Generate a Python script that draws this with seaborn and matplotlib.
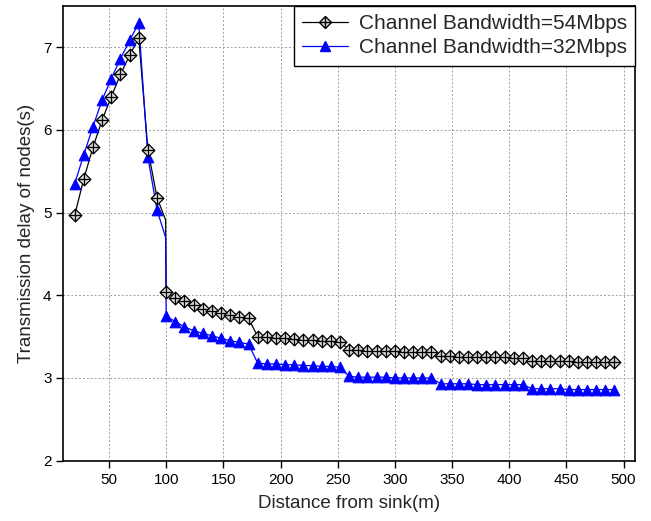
import numpy as np
import pandas as pd
import matplotlib
matplotlib.use("Agg")
import matplotlib.pyplot as plt
import seaborn as sns
from matplotlib.lines import Line2D
from matplotlib.legend_handler import HandlerTuple

# ---------------- data ----------------
distance = list(range(20, 493, 8))  # 20, 28, ..., 492

delay_54 = [4.97, 5.41, 5.79, 6.12, 6.40, 6.67, 6.90, 7.11, 5.76, 5.18,
            4.04, 3.97, 3.93, 3.88, 3.84, 3.81, 3.78, 3.76, 3.74, 3.72,
            3.50, 3.49, 3.48, 3.48, 3.47, 3.46, 3.46, 3.45, 3.45, 3.44,
            3.34, 3.34, 3.33, 3.33, 3.33, 3.33, 3.32, 3.32, 3.32, 3.32,
            3.26, 3.26, 3.25, 3.25, 3.25, 3.25, 3.25, 3.25, 3.24, 3.24,
            3.20, 3.20, 3.20, 3.20, 3.20, 3.19, 3.19, 3.19, 3.19, 3.19]

delay_32 = [5.35, 5.70, 6.04, 6.36, 6.62, 6.86, 7.08, 7.29, 5.67, 5.03,
            3.75, 3.68, 3.62, 3.57, 3.54, 3.51, 3.48, 3.45, 3.43, 3.41,
            3.18, 3.17, 3.17, 3.16, 3.16, 3.15, 3.15, 3.14, 3.14, 3.13,
            3.02, 3.01, 3.01, 3.01, 3.01, 3.00, 3.00, 3.00, 3.00, 3.00,
            2.93, 2.93, 2.93, 2.93, 2.92, 2.92, 2.92, 2.92, 2.92, 2.92,
            2.87, 2.87, 2.87, 2.87, 2.86, 2.86, 2.86, 2.86, 2.86, 2.86]

# unmarked bend vertices of the curves just before the drop at 100 m
bend_x = [99.5]
bend_54 = [4.91]
bend_32 = [4.70]

labels = ["Channel Bandwidth=54Mbps", "Channel Bandwidth=32Mbps"]
x_ticks = [50, 100, 150, 200, 250, 300, 350, 400, 450, 500]
y_ticks = [2, 3, 4, 5, 6, 7]

# ---------------- style ----------------
sns.set_style("ticks")
plt.rcParams["font.family"] = ["Liberation Sans", "DejaVu Sans"]

fig = plt.figure(figsize=(6.51, 5.21), dpi=100)
ax = fig.add_axes([0.0972, 0.1157, 0.9754 - 0.0972, 0.989 - 0.1157])

line_54 = pd.DataFrame({"x": distance + bend_x, "y": delay_54 + bend_54}).sort_values("x")
line_32 = pd.DataFrame({"x": distance + bend_x, "y": delay_32 + bend_32}).sort_values("x")
pts_54 = pd.DataFrame({"x": distance, "y": delay_54})
pts_32 = pd.DataFrame({"x": distance, "y": delay_32})

blue = "#0000ff"

sns.lineplot(data=line_54, x="x", y="y", ax=ax, color="black", lw=0.9,
             estimator=None, sort=False, zorder=3)
sns.lineplot(data=line_32, x="x", y="y", ax=ax, color=blue, lw=0.9,
             estimator=None, sort=False, zorder=3)

sns.scatterplot(data=pts_32, x="x", y="y", ax=ax, marker="^", s=58,
                color=blue, edgecolor=blue, linewidth=0.8, zorder=4)
sns.scatterplot(data=pts_54, x="x", y="y", ax=ax, marker="D", s=42,
                facecolor="#d8d8d8", edgecolor="black", linewidth=0.9, zorder=5)
sns.scatterplot(data=pts_54, x="x", y="y", ax=ax, marker="+", s=70,
                color="black", linewidth=0.9, zorder=6)

ax.set_xlim(10, 510)
ax.set_ylim(2, 7.5)
ax.set_xticks(x_ticks)
ax.set_yticks(y_ticks)
ax.tick_params(axis="both", direction="out", length=5, width=1,
               labelsize=11, colors="black", top=False, right=False)
for sp in ax.spines.values():
    sp.set_visible(True)
    sp.set_color("black")
    sp.set_linewidth(1.2)

ax.grid(True, color="#a0a0a0", linestyle=(0, (2, 2)), linewidth=0.7)
ax.set_axisbelow(True)

ax.set_xlabel("Distance from sink(m)", fontsize=13.5, labelpad=6)
ax.set_ylabel("Transmission delay of nodes(s)", fontsize=13.5, labelpad=6)

h54 = (Line2D([], [], color="black", lw=0.9, marker="D", markersize=6.5,
              markerfacecolor="#d8d8d8", markeredgecolor="black"),
       Line2D([], [], color="black", lw=0, marker="+", markersize=8.4))
h32 = Line2D([], [], color=blue, lw=0.9, marker="^", markersize=7.6,
             markerfacecolor=blue, markeredgecolor=blue)
leg = ax.legend([h54, h32], labels, handler_map={tuple: HandlerTuple(ndivide=1, pad=0)},
                loc="upper right", bbox_to_anchor=(1, 1), borderaxespad=0,
                fontsize=15, frameon=True, fancybox=False, framealpha=1,
                edgecolor="black", handlelength=2.2, handletextpad=0.5,
                labelspacing=0.25, borderpad=0.4)
leg.get_frame().set_linewidth(1.0)

fig.savefig("out.png", dpi=100)
